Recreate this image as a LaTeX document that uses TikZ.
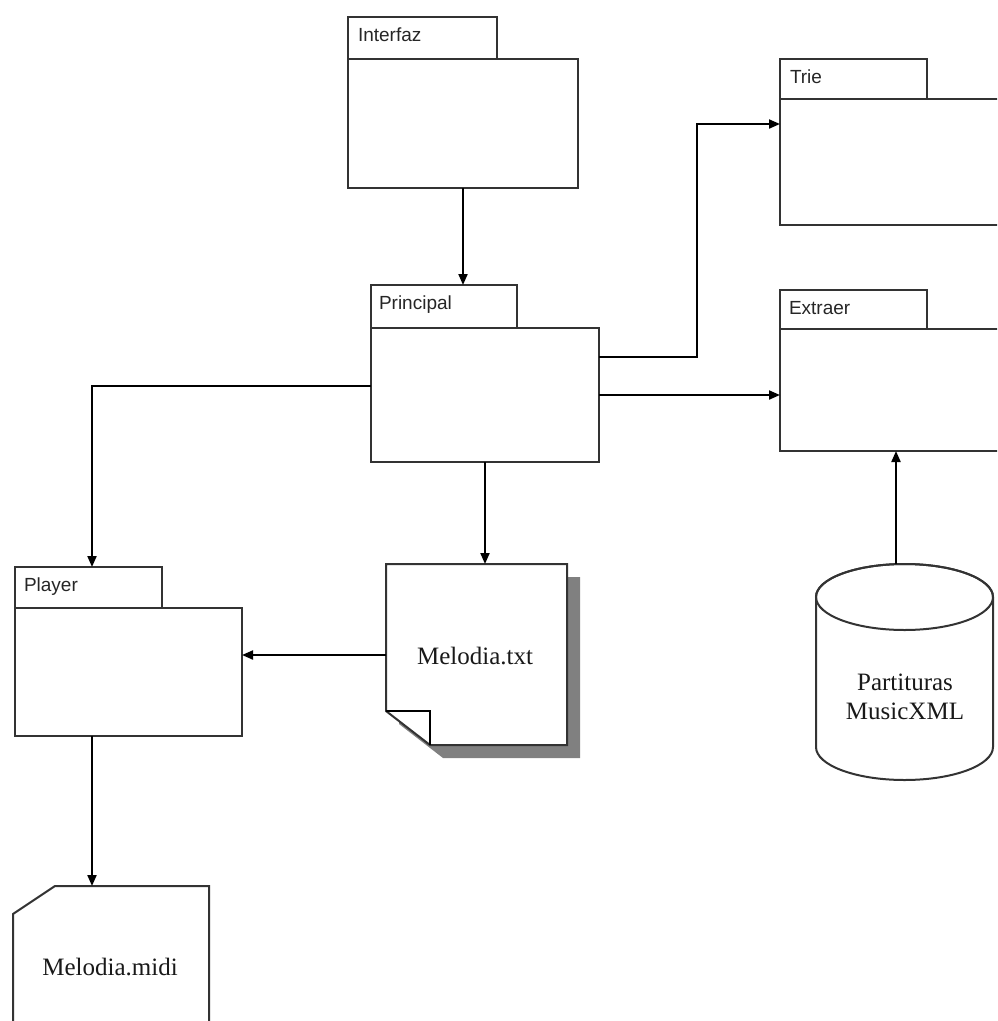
\documentclass[tikz,border=0pt]{standalone}
\usepackage{fontspec}
\setmainfont{Liberation Serif}
\setsansfont{Liberation Sans}
\usetikzlibrary{arrows.meta}
\begin{document}
\begin{tikzpicture}[x=1pt,y=-1pt,line width=2pt,
  pkg/.style={draw=black!80,rectangle,fill=white,inner sep=0pt,outer sep=0pt,anchor=north west},
  lbl/.style={font=\sffamily\fontsize{19}{19}\selectfont,anchor=base west,inner sep=0pt,text=black!85},
  arr/.style={-{Triangle[length=11pt,width=9pt]},line width=2pt},
  doctext/.style={font=\fontsize{25}{29}\selectfont,align=center,inner sep=0pt,text=black!90},
  area/.style={rectangle,inner sep=0pt,outer sep=0pt}]
\useasboundingbox (0,0) rectangle (997,1021);
\clip (0,0) rectangle (997,1021);
\fill[white] (0,0) rectangle (997,1021);

% Interfaz
\node[pkg,minimum width=149pt,minimum height=42pt] (interfazTab) at (348,17) {};
\node[pkg,minimum width=230pt,minimum height=129pt] (interfaz) at (348,59) {};
\node[lbl] (interfazLbl) at (357,41) {Interfaz};

% Principal
\node[pkg,minimum width=146pt,minimum height=43pt] (principalTab) at (371,285) {};
\node[pkg,minimum width=228pt,minimum height=134pt] (principal) at (371,328) {};
\node[lbl] (principalLbl) at (378,309) {Principal};

% Trie
\node[pkg,minimum width=147pt,minimum height=40pt] (trieTab) at (780,59) {};
\node[pkg,minimum width=240pt,minimum height=126pt] (trie) at (780,99) {};
\node[lbl] (trieLbl) at (789,83) {Trie};

% Extraer
\node[pkg,minimum width=147pt,minimum height=39pt] (extraerTab) at (780,290) {};
\node[pkg,minimum width=240pt,minimum height=122pt] (extraer) at (780,329) {};
\node[lbl] (extraerLbl) at (788,314) {Extraer};

% Player
\node[pkg,minimum width=147pt,minimum height=41pt] (playerTab) at (15,567) {};
\node[pkg,minimum width=227pt,minimum height=128pt] (player) at (15,608) {};
\node[lbl] (playerLbl) at (23,591) {Player};

% Melodia.txt document with shadow
\fill[black!50] (399,577) -- (580,577) -- (580,758) -- (443,758) -- (399,724) -- cycle;
\draw[draw=black!80,fill=white] (386,564) -- (567,564) -- (567,745) -- (430,745) -- (386,711) -- cycle;
\draw[line width=1.5pt] (386,711) -- (430,711) -- (430,745);
\node[area,minimum width=181pt,minimum height=182pt] (melTxt) at (476.5,655) {};
\node[doctext] (melTxtLbl) at (475,656) {Melodia.txt};

% Melodia.midi
\draw[draw=black!80,fill=white] (13,914) -- (55,886) -- (209,886) -- (209,1040) -- (13,1040) -- cycle;
\node[area,minimum width=196pt,minimum height=154pt] (midi) at (111,963) {};
\node[doctext] (midiLbl) at (110,967) {Melodia.midi};

% Cylinder
\draw[draw=black!80,fill=white] (816,747) arc[start angle=180,end angle=360,x radius=88.5pt,y radius=33pt]
  -- (993,597) arc[start angle=0,end angle=180,x radius=88.5pt,y radius=33pt] -- cycle;
\draw[draw=black!80] (904.5,597) ellipse[x radius=88.5pt,y radius=33pt];
\node[area,minimum width=177pt,minimum height=216pt] (db) at (904.5,672) {};
\node[doctext] (dbLbl) at (905,697) {Partituras\\MusicXML};

% Connectors
\draw[arr] (interfaz.south) -- (interfaz.south |- principalTab.north);
\draw[arr] ([yshift=38pt]principal.east) -- ++(98pt,0pt) |- ([yshift=38pt]trie.west);
\draw[arr] (principal.east) -- (principal.east -| extraer.west);
\draw[arr] ([yshift=9pt]principal.west) -| ([xshift=3.5pt]playerTab.north);
\draw[arr] (principal.south) -- (principal.south |- melTxt.north);
\draw[arr] (melTxt.west) -- (melTxt.west -| player.east);
\draw[arr] ([xshift=-36.5pt]player.south) -- ([xshift=-36.5pt]player.south |- midi.north);
\draw[arr] ([xshift=-8.5pt]db.north) -- ([xshift=-8.5pt]db.north |- extraer.south);
\end{tikzpicture}
\end{document}
